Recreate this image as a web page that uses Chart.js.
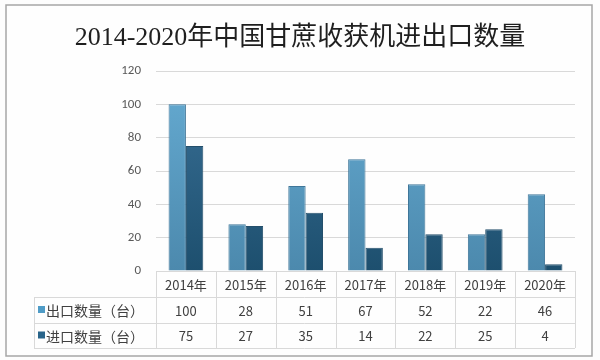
<!DOCTYPE html>
<html>
<head>
<meta charset="utf-8">
<script src="https://cdn.jsdelivr.net/npm/chart.js@4/dist/chart.umd.min.js"></script>
<style>
  html, body { margin: 0; padding: 0; background: #fdfdfd; }
</style>
</head>
<body>
<canvas id="chart" width="600" height="360"></canvas>
<script>
const years = ['2014年', '2015年', '2016年', '2017年', '2018年', '2019年', '2020年'];
const exportCounts = [100, 28, 51, 67, 52, 22, 46];
const importCounts = [75, 27, 35, 14, 22, 25, 4];
const seriesNames = ['出口数量（台）', '进口数量（台）'];

const cjk = '"Microsoft YaHei", "Noto Sans CJK SC", sans-serif';

function barFill(ctx, light, dark) {
    const chart = ctx.chart;
    const area = chart.chartArea;
    if (!area) return light;
    const g = chart.ctx.createLinearGradient(0, area.top, 0, area.bottom);
    g.addColorStop(0, light);
    g.addColorStop(1, dark);
    return g;
}

// frame + data table under the plot
const tablePlugin = {
    id: 'dataTable',
    beforeDraw(chart) {
        const c = chart.ctx;
        c.save();
        c.fillStyle = '#fefefe';
        c.fillRect(6, 5, 586, 351);
        c.strokeStyle = '#a6a6a6';
        c.lineWidth = 1.5;
        c.strokeRect(6, 5, 586, 351);
        c.restore();
    },
    afterDraw(chart) {
        const c = chart.ctx;
        const x = chart.scales.x;
        const area = chart.chartArea;
        const left = area.left, right = area.right;
        const rowTop = [area.bottom, 297, 323, 348];
        const labelLeft = 34;
        const step = (right - left) / years.length;

        c.save();
        c.strokeStyle = '#d9d9d9';
        c.lineWidth = 1;
        c.beginPath();
        // horizontal lines
        c.moveTo(left, rowTop[0] + 0.5); c.lineTo(right, rowTop[0] + 0.5);
        for (let i = 1; i < rowTop.length; i++) {
            c.moveTo(labelLeft, rowTop[i] + 0.5); c.lineTo(right, rowTop[i] + 0.5);
        }
        // vertical lines
        c.moveTo(labelLeft + 0.5, rowTop[1]); c.lineTo(labelLeft + 0.5, rowTop[3]);
        for (let i = 0; i <= years.length; i++) {
            const vx = Math.round(left + i * step) + 0.5;
            c.moveTo(vx, rowTop[0]); c.lineTo(vx, rowTop[3]);
        }
        c.stroke();

        c.fillStyle = '#404040';
        c.textAlign = 'center';
        c.textBaseline = 'middle';
        c.font = '13px ' + cjk;
        years.forEach((y, i) => {
            const cx = x.getPixelForValue(i);
            c.fillText(y, cx, (rowTop[0] + rowTop[1]) / 2 + 1);
            c.fillText(String(exportCounts[i]), cx, (rowTop[1] + rowTop[2]) / 2 + 1);
            c.fillText(String(importCounts[i]), cx, (rowTop[2] + rowTop[3]) / 2 + 1);
        });

        // row labels with colour keys
        const keyCols = ['#4f9cc7', '#28648a'];
        c.textAlign = 'left';
        c.font = '14px ' + cjk;
        seriesNames.forEach((name, r) => {
            const cy = (rowTop[r + 1] + rowTop[r + 2]) / 2;
            c.fillStyle = keyCols[r];
            c.fillRect(labelLeft + 4, cy - 4, 7, 7);
            c.fillStyle = '#404040';
            c.fillText(name, labelLeft + 12, cy + 1);
        });
        c.restore();
    }
};

const ctx = document.getElementById('chart').getContext('2d');
new Chart(ctx, {
    type: 'bar',
    data: {
        labels: years,
        datasets: [
            {
                label: seriesNames[0],
                data: exportCounts,
                backgroundColor: c => barFill(c, '#66acd3', '#4c89ad'),
                borderColor: '#3f7699',
                borderWidth: 1
            },
            {
                label: seriesNames[1],
                data: importCounts,
                backgroundColor: c => barFill(c, '#3b7299', '#1d4f6e'),
                borderColor: '#244f6b',
                borderWidth: 1
            }
        ]
    },
    options: {
        responsive: false,
        animation: false,
        devicePixelRatio: 1,
        layout: { padding: { left: 25, right: 25, top: 0, bottom: 89 } },
        datasets: { bar: { categoryPercentage: 0.58, barPercentage: 1 } },
        scales: {
            x: { display: false },
            y: {
                min: 0,
                max: 120,
                afterFit: s => { s.width = 131; },
                border: { display: false },
                grid: { color: '#d9d9d9', drawTicks: false },
                ticks: {
                    stepSize: 20,
                    padding: 15,
                    color: '#595959',
                    font: { family: 'Calibri, Carlito, "Open Sans", sans-serif', size: 13 }
                }
            }
        },
        plugins: {
            legend: { display: false },
            tooltip: { enabled: false },
            title: {
                display: true,
                text: '2014-2020年中国甘蔗收获机进出口数量',
                color: '#1f1f1f',
                font: { family: '"Liberation Serif", "Noto Sans CJK SC", serif', size: 26, weight: 'normal' },
                padding: { top: 22.5, bottom: 17.3 }
            }
        }
    },
    plugins: [tablePlugin]
});
</script>
</body>
</html>
